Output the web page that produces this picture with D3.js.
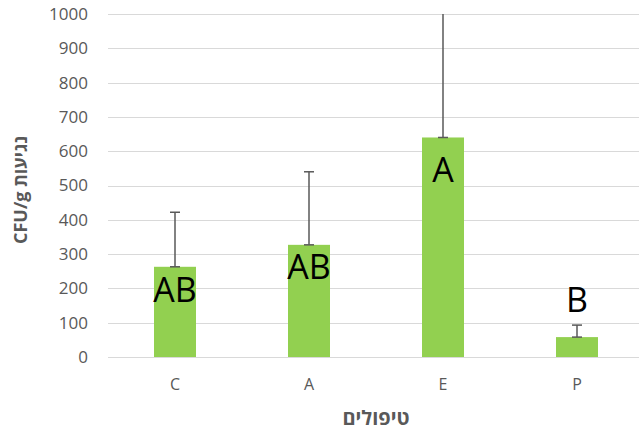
<!DOCTYPE html>
<html><head><meta charset="utf-8">
<script src="https://cdn.jsdelivr.net/npm/d3@7"></script>
<style>html,body{margin:0;padding:0;background:#fff;}svg{display:block;}</style>
</head><body>
<script>
const categories = ["C", "A", "E", "P"];
const means = [263, 327, 640, 58];
const errPlus = [159, 213, 420, 35];
const letters = ["AB", "AB", "A", "B"];
const yTicks = [0,100,200,300,400,500,600,700,800,900,1000];
const xTitle = "טיפולים";
const yTitle = "נגיעות CFU/g";

const W = 639, H = 432;
const svg = d3.select("body").append("svg").attr("width", W).attr("height", H);
const x = d3.scaleBand().domain(categories).range([108, 644]).paddingInner(0).paddingOuter(0);
const y = d3.scaleLinear().domain([0, 1000]).range([357, 14]);
const font = "'Open Sans', 'Noto Sans', sans-serif";

// gridlines
svg.append("g").selectAll("line").data(yTicks).join("line")
  .attr("x1", 108).attr("x2", 644)
  .attr("y1", d => Math.round(y(d)) + 0.5).attr("y2", d => Math.round(y(d)) + 0.5)
  .attr("stroke", "#d9d9d9").attr("stroke-width", 1);

// y axis labels
const yAxis = d3.axisLeft(y).tickValues(yTicks).tickFormat(d3.format("d")).tickSize(0).tickPadding(0);
const gy = svg.append("g").attr("transform", "translate(88,0)").call(yAxis);
gy.select(".domain").remove();
gy.selectAll("text").attr("font-family", font).attr("font-size", 17).attr("fill", "#595959");

// x axis labels
const xAxis = d3.axisBottom(x).tickSize(0).tickPadding(0);
const gx = svg.append("g").attr("transform", "translate(0,379)").call(xAxis);
gx.select(".domain").remove();
gx.selectAll("text").attr("font-family", font).attr("font-size", 16).attr("fill", "#595959");

const bw = 42;
const rows = categories.map((c, i) => ({c, m: means[i], e: errPlus[i], l: letters[i]}));

// bars
svg.append("g").selectAll("rect").data(rows).join("rect")
  .attr("x", d => x(d.c) + x.bandwidth()/2 - bw/2)
  .attr("width", bw)
  .attr("y", d => y(d.m))
  .attr("height", d => y(0) - y(d.m))
  .attr("fill", "#92d050");

// error bars (clipped at plot top)
const clipId = "plotclip";
svg.append("clipPath").attr("id", clipId).append("rect").attr("x", 0).attr("y", y(1000)).attr("width", W).attr("height", 400);
const eg = svg.append("g").attr("clip-path", `url(#${clipId})`).attr("stroke", "#595959").attr("stroke-width", 1.5);
rows.forEach(d => {
  const cx = x(d.c) + x.bandwidth()/2;
  eg.append("line").attr("x1", cx).attr("x2", cx).attr("y1", y(d.m)).attr("y2", y(d.m + d.e));
  eg.append("line").attr("x1", cx - 5).attr("x2", cx + 5).attr("y1", y(d.m)).attr("y2", y(d.m));
  if (d.m + d.e <= 1000)
    eg.append("line").attr("x1", cx - 5).attr("x2", cx + 5).attr("y1", y(d.m + d.e)).attr("y2", y(d.m + d.e));
});

// letter labels
const labelOffsets = [35, 34, 45, null];
svg.append("g").selectAll("text").data(rows).join("text")
  .attr("x", d => x(d.c) + x.bandwidth()/2)
  .attr("y", (d, i) => labelOffsets[i] === null ? y(d.m + d.e) - 13 : y(d.m) + labelOffsets[i])
  .attr("text-anchor", "middle")
  .attr("font-family", "'Open Sans', 'Liberation Sans', sans-serif")
  .attr("font-size", 34).attr("fill", "#000")
  .text(d => d.l);

// axis titles
svg.append("text").attr("x", 376).attr("y", 425).attr("text-anchor", "middle")
  .attr("font-family", font).attr("font-weight", "bold").attr("font-size", 20).attr("fill", "#595959")
  .attr("direction", "rtl").text(xTitle);
svg.append("text").attr("transform", "translate(27,190) rotate(-90)").attr("text-anchor", "middle")
  .attr("font-family", font).attr("font-weight", "bold").attr("font-size", 18).attr("fill", "#595959")
  .attr("direction", "rtl").text(yTitle);
</script>
</body></html>
